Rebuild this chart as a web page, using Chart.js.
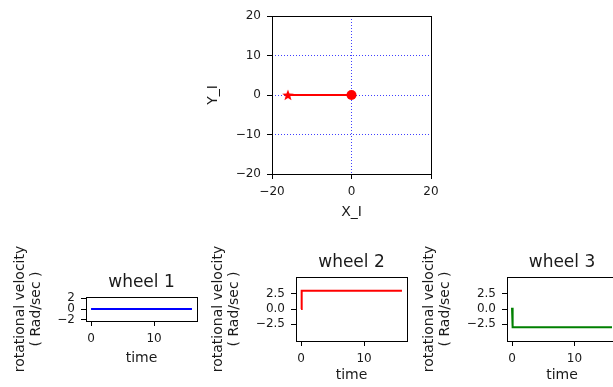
<!DOCTYPE html>
<html>
<head>
<meta charset="utf-8">
<script src="https://cdn.jsdelivr.net/npm/chart.js@4.4.0/dist/chart.umd.min.js"></script>
<style>
  html, body { margin: 0; padding: 0; background: #fff; overflow: hidden; }
  body { width: 613px; height: 387px; position: relative; }
  .panel { position: absolute; }
</style>
</head>
<body>
<div class="panel" id="p0"><canvas id="top"></canvas></div>
<div class="panel" id="p1"><canvas id="w1"></canvas></div>
<div class="panel" id="p2"><canvas id="w2"></canvas></div>
<div class="panel" id="p3"><canvas id="w3"></canvas></div>
<script>
// ---- data ----
const pathX = [-16, 0];
const pathY = [0, 0];
const startPoint = [-16, 0];
const currentPoint = [0, 0];
const topXTicks = [-20, 0, 20];
const topYTicks = [-20, -10, 0, 10, 20];

const time = [0, 0.1, 16];
const wheel1 = [0, 0, 0];
const wheel2 = [0, 3.0, 3.0];
const wheel3 = [0.2, -3.0, -3.0];
const timeTicks = [0, 10];
const wheel1Ticks = [-2, 0, 2];
const wheelTicks = [-2.5, 0, 2.5];

const FONT = "'DejaVu Sans', sans-serif";
const INK = '#1a1a1a';

function mathMinus(s) { return String(s).replace('-', '\u2212'); }

// filled star marker (matplotlib '*')
function starImage(size, color) {
  const c = document.createElement('canvas');
  c.width = size; c.height = size;
  const g = c.getContext('2d');
  const cx = size / 2, cy = size / 2 + 0.5, R = size / 2, r = R * 0.42;
  g.beginPath();
  for (let i = 0; i < 10; i++) {
    const a = -Math.PI / 2 + i * Math.PI / 5;
    const rad = i % 2 ? r : R;
    g.lineTo(cx + rad * Math.cos(a), cy + rad * Math.sin(a));
  }
  g.closePath();
  g.fillStyle = color;
  g.fill();
  return c;
}

// black frame round the plotting area + centred panel title
const framePlugin = {
  id: 'frame',
  afterDraw(chart, args, opts) {
    const a = chart.chartArea, ctx = chart.ctx;
    ctx.save();
    ctx.strokeStyle = '#000';
    ctx.lineWidth = 1;
    ctx.strokeRect(Math.round(a.left) + 0.5, Math.round(a.top) + 0.5,
      Math.round(a.right - a.left), Math.round(a.bottom - a.top));
    if (opts.text) {
      ctx.fillStyle = INK;
      ctx.font = '17px ' + FONT;
      ctx.textAlign = 'center';
      ctx.textBaseline = 'middle';
      ctx.fillText(opts.text, (a.left + a.right) / 2, a.top - opts.gap);
    }
    ctx.restore();
  }
};

function zip(xs, ys) { return xs.map((x, i) => ({ x: x, y: ys[i] })); }

// box = canvas rect, area = wanted plot rect (page coords)
function makePanel(divId, canvasId, box, area, cfg) {
  const div = document.getElementById(divId);
  div.style.left = box.left + 'px';
  div.style.top = box.top + 'px';
  const canvas = document.getElementById(canvasId);
  canvas.width = box.width;
  canvas.height = box.height;
  canvas.style.width = box.width + 'px';
  canvas.style.height = box.height + 'px';

  const yW = area.l - box.left;
  const xH = box.top + box.height - area.b;
  const tickFont = { family: FONT, size: 12 };
  const labelFont = { family: FONT, size: 14, lineHeight: 16 / 14 };

  const scaleBase = (ticks, fmt) => ({
    type: 'linear',
    border: { display: false, dash: cfg.grid ? [1, 2] : [] },
    grid: {
      display: true,
      drawOnChartArea: !!cfg.grid,
      color: 'rgba(0,0,255,0.75)',
      lineWidth: 1,
      drawTicks: true,
      tickLength: 5,
      tickColor: '#000',
      tickWidth: 1,
      tickBorderDash: []
    },
    ticks: { color: INK, font: tickFont, padding: 6, autoSkip: false, maxRotation: 0,
      callback: v => mathMinus(fmt(v)) },
    afterBuildTicks: s => { s.ticks = ticks.map(v => ({ value: v })); }
  });

  const xs = Object.assign(scaleBase(cfg.xTicks, cfg.xFmt), {
    min: cfg.xMin, max: cfg.xMax,
    title: { display: true, text: cfg.xTitle, color: INK, font: labelFont, padding: { top: 0, bottom: cfg.xTitlePad } },
    afterFit: s => { s.height = xH; s.paddingLeft = 0; s.paddingRight = 0; }
  });
  const ys = Object.assign(scaleBase(cfg.yTicks, cfg.yFmt), {
    min: cfg.yMin, max: cfg.yMax,
    title: { display: true, text: cfg.yTitle, color: INK, font: labelFont, padding: { top: cfg.yTitlePad, bottom: 0 } },
    afterFit: s => { s.width = yW; s.paddingTop = 0; s.paddingBottom = 0; }
  });

  return new Chart(canvas, {
    type: 'line',
    data: { datasets: cfg.datasets },
    options: {
      responsive: false,
      animation: false,
      events: [],
      layout: { padding: { left: 0, top: area.t - box.top, right: box.left + box.width - area.r, bottom: 0 } },
      plugins: {
        legend: { display: false },
        tooltip: { enabled: false },
        title: { display: false },
        frame: { text: cfg.title, gap: cfg.title ? area.t - cfg.titleY : 0 }
      },
      scales: { x: xs, y: ys }
    },
    plugins: [framePlugin]
  });
}

// ---- top: position plot ----
makePanel('p0', 'top',
  { left: 190, top: 0, width: 260, height: 230 },
  { l: 272, t: 16, r: 431, b: 174 },
  {
    grid: true,
    xMin: -20, xMax: 20, yMin: -20, yMax: 20,
    xTicks: topXTicks, yTicks: topYTicks,
    xFmt: v => v, yFmt: v => v,
    xTitle: 'X_I', yTitle: 'Y_I',
    xTitlePad: 10, yTitlePad: 15,
    datasets: [
      { data: zip(pathX, pathY), borderColor: '#ff0000', borderWidth: 2, pointRadius: 0 },
      { data: [{ x: startPoint[0], y: startPoint[1] }], showLine: false,
        pointStyle: starImage(12, '#ff0000'), pointRadius: 6 },
      { data: [{ x: currentPoint[0], y: currentPoint[1] }], showLine: false,
        pointStyle: 'circle', pointRadius: 5, backgroundColor: '#ff0000', borderColor: '#ff0000', borderWidth: 0 }
    ]
  });

// ---- bottom: wheel speeds ----
const yLabel = ['rotational velocity', '( Rad/sec )'];
const wheelPanels = [
  { div: 'p1', id: 'w1', box: { left: 0, top: 240, width: 210, height: 147 },
    area: { l: 86, t: 297, r: 197, b: 321 }, titleY: 283, title: 'wheel 1',
    data: wheel1, color: '#0000ff', yMin: -2.2, yMax: 2.2, yTicks: wheel1Ticks,
    yFmt: v => v, xTitlePad: 21, yTitlePad: 12 },
  { div: 'p2', id: 'w2', box: { left: 200, top: 240, width: 220, height: 147 },
    area: { l: 296, t: 277, r: 407, b: 341 }, titleY: 262.5, title: 'wheel 2',
    data: wheel2, color: '#ff0000', yMin: -5.23, yMax: 5.23, yTicks: wheelTicks,
    yFmt: v => v.toFixed(1), xTitlePad: 4, yTitlePad: 10 },
  { div: 'p3', id: 'w3', box: { left: 410, top: 240, width: 220, height: 147 },
    area: { l: 507, t: 277, r: 617, b: 341 }, titleY: 262.5, title: 'wheel 3',
    data: wheel3, color: '#008000', yMin: -5.23, yMax: 5.23, yTicks: wheelTicks,
    yFmt: v => v.toFixed(1), xTitlePad: 4, yTitlePad: 11 }
];

wheelPanels.forEach(p => {
  makePanel(p.div, p.id, p.box, p.area, {
    grid: false,
    title: p.title, titleY: p.titleY,
    xMin: -0.8, xMax: 16.8, yMin: p.yMin, yMax: p.yMax,
    xTicks: timeTicks, yTicks: p.yTicks,
    xFmt: v => v, yFmt: p.yFmt,
    xTitle: 'time', yTitle: yLabel,
    xTitlePad: p.xTitlePad, yTitlePad: p.yTitlePad,
    datasets: [
      { data: zip(time, p.data), borderColor: p.color, borderWidth: 2, pointRadius: 0, tension: 0 }
    ]
  });
});
</script>
</body>
</html>
